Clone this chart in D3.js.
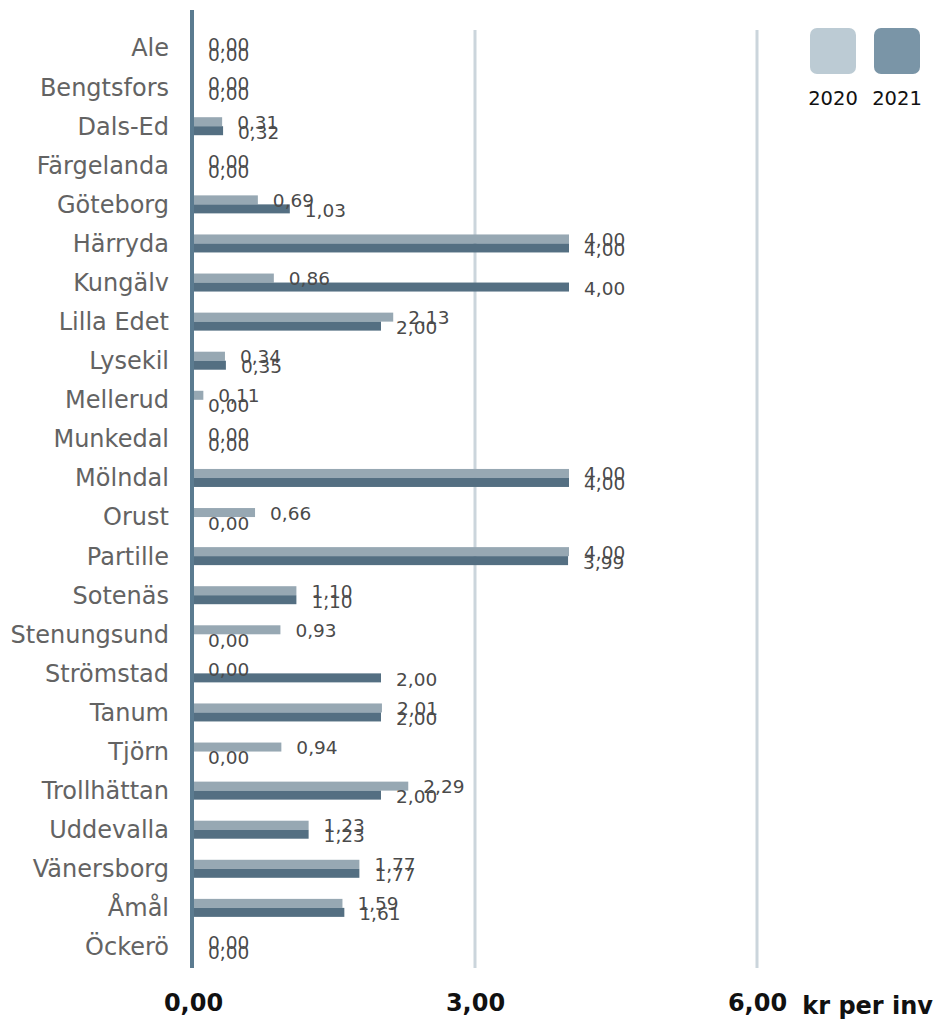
<!DOCTYPE html>
<html><head><meta charset="utf-8">
<script src="https://cdn.jsdelivr.net/npm/d3@7"></script>
<style>body{margin:0;background:#fff}svg{display:block}text{font-family:"DejaVu Sans",Verdana,sans-serif}</style>
</head><body><svg id="c" width="936" height="1020"></svg>
<script>
const categories = ["Ale","Bengtsfors","Dals-Ed","Färgelanda","Göteborg","Härryda","Kungälv","Lilla Edet","Lysekil","Mellerud","Munkedal","Mölndal","Orust","Partille","Sotenäs","Stenungsund","Strömstad","Tanum","Tjörn","Trollhättan","Uddevalla","Vänersborg","Åmål","Öckerö"];
const values2020 = [0,0,0.31,0,0.69,4.00,0.86,2.13,0.34,0.11,0,4.00,0.66,4.00,1.10,0.93,0,2.01,0.94,2.29,1.23,1.77,1.59,0];
const values2021 = [0,0,0.32,0,1.03,4.00,4.00,2.00,0.35,0,0,4.00,0,3.99,1.10,0,2.00,2.00,0,2.00,1.23,1.77,1.61,0];
const seriesNames = ["2020","2021"];
const tickValues = [0,3,6];
const axisTitle = "kr per inv";

const svg = d3.select("#c");
const x = d3.scaleLinear().domain([0,6]).range([193,757]);
const y = d3.scaleBand().domain(categories).range([28.5,966.5]);
const rowC = c => y(c) + y.bandwidth()/2;
const fmt = v => d3.format(".2f")(v).replace(".", ",");
const colBar = ["#97a8b3","#546f82"];
const colLeg = ["#bccbd4","#7a95a7"];

// gridlines
svg.append("g").selectAll("line").data(tickValues.filter(d=>d>0)).join("line")
  .attr("x1",d=>x(d)).attr("x2",d=>x(d)).attr("y1",30).attr("y2",968)
  .attr("stroke","#cbd5dc").attr("stroke-width",3);

// bars
const bh = 9;
const series = [values2020, values2021];
series.forEach((vals,si)=>{
  svg.append("g").selectAll("rect").data(categories).join("rect")
    .attr("x",x(0)).attr("width",(c,i)=>x(vals[i])-x(0))
    .attr("y",c=>rowC(c)-bh+si*bh).attr("height",bh)
    .attr("fill",colBar[si]);
});

// axis line
svg.append("line").attr("x1",x(0)-1).attr("x2",x(0)-1).attr("y1",10).attr("y2",968)
  .attr("stroke","#5b7b90").attr("stroke-width",4);

// value labels
series.forEach((vals,si)=>{
  svg.append("g").selectAll("text").data(categories).join("text")
    .attr("x",(c,i)=>x(vals[i])+15)
    .attr("y",c=>rowC(c)+(si===0?-4:6))
    .attr("dominant-baseline","central")
    .attr("font-size",18.5).attr("fill","#4a4a4a")
    .text((c,i)=>fmt(vals[i]));
});

// category labels
const yAxis = d3.axisLeft(y).tickSize(0).tickPadding(0);
const ga = svg.append("g").attr("transform","translate(169,0)").call(yAxis);
ga.select(".domain").remove();
ga.selectAll("text").attr("font-size",24).attr("fill","#636363")
  .attr("font-family","'DejaVu Sans',Verdana,sans-serif").attr("dy","0.35em");

// x tick labels
const xAxis = d3.axisBottom(x).tickValues(tickValues).tickSize(0).tickFormat(fmt);
const gx = svg.append("g").attr("transform","translate(0,995)").call(xAxis);
gx.select(".domain").remove();
gx.selectAll("text").attr("font-size",24).attr("font-weight","bold").attr("fill","#111")
  .attr("font-family","'DejaVu Sans',Verdana,sans-serif").attr("dy","0.55em");
svg.append("text").attr("x",933).attr("y",1006).attr("text-anchor","end")
  .attr("dominant-baseline","central")
  .attr("font-size",24).attr("font-weight","bold").attr("fill","#111").text(axisTitle);

// legend
const lg = svg.append("g").selectAll("g").data(seriesNames).join("g")
  .attr("transform",(d,i)=>`translate(${810+i*64},28)`);
lg.append("rect").attr("width",46).attr("height",46).attr("rx",7).attr("fill",(d,i)=>colLeg[i]);
lg.append("text").attr("x",23).attr("y",70).attr("text-anchor","middle")
  .attr("dominant-baseline","central").attr("font-size",19.5).attr("fill","#111").text(d=>d);
</script></body></html>
